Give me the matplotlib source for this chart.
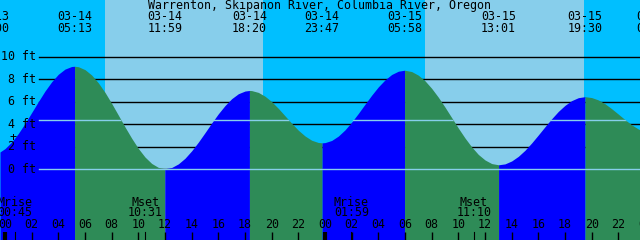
import numpy as np
import matplotlib
matplotlib.use('Agg')
import matplotlib.pyplot as plt

# tide heights (ft), hours from 03-14 00:00
tide_hours = [-0.375, 0, 0.5, 1, 1.5, 2, 2.5, 3, 3.5, 4, 4.5, 5, 5.217,
              5.5, 6, 6.5, 7, 7.5, 8, 8.5, 9, 9.5, 10, 10.5, 11, 11.5, 11.983,
              12.5, 13, 13.5, 14, 14.5, 15, 15.5, 16, 16.5, 17, 17.5, 18, 18.333,
              18.5, 19, 19.5, 20, 20.5, 21, 21.5, 22, 22.5, 23, 23.5, 23.783,
              24, 24.5, 25, 25.5, 26, 26.5, 27, 27.5, 28, 28.5, 29, 29.5, 29.967,
              30.5, 31, 31.5, 32, 32.5, 33, 33.5, 34, 34.5, 35, 35.5, 36, 36.5, 37.017,
              37.5, 38, 38.5, 39, 39.5, 40, 40.5, 41, 41.5, 42, 42.5, 43, 43.5,
              44, 44.5, 45, 45.5, 46, 46.5, 47, 47.5, 47.625]
tide_ft = [1.54, 1.84, 2.42, 3.18, 4.07, 5.04, 6.01, 6.95, 7.77, 8.44, 8.90, 9.13, 9.15,
           9.11, 8.85, 8.37, 7.68, 6.83, 5.85, 4.81, 3.76, 2.76, 1.85, 1.09, 0.52, 0.17, 0.05,
           0.16, 0.48, 0.98, 1.64, 2.41, 3.25, 4.11, 4.93, 5.66, 6.27, 6.71, 6.95, 7.0,
           6.99, 6.83, 6.49, 6.01, 5.41, 4.75, 4.09, 3.47, 2.96, 2.58, 2.38, 2.35,
           2.37, 2.56, 2.95, 3.50, 4.19, 4.96, 5.78, 6.58, 7.32, 7.94, 8.42, 8.71, 8.8,
           8.68, 8.36, 7.86, 7.19, 6.40, 5.52, 4.59, 3.66, 2.78, 1.99, 1.32, 0.83, 0.51, 0.4,
           0.48, 0.74, 1.15, 1.69, 2.34, 3.05, 3.78, 4.49, 5.14, 5.68, 6.10, 6.36, 6.45,
           6.37, 6.16, 5.82, 5.38, 4.90, 4.41, 3.95, 3.58, 3.50]

# high / low tide events
event_hours = [-1.0, 5.217, 11.983, 18.333, 23.783, 29.967, 37.017, 43.5, 48.667]
event_dates = ['03-13', '03-14', '03-14', '03-14', '03-14', '03-15', '03-15', '03-15', '03-16']
event_times = ['23:00', '05:13', '11:59', '18:20', '23:47', '05:58', '13:01', '19:30', '00:40']

# daylight
sunrise = [7.5, 31.5]
sunset = [19.35, 43.43]

# moon
moon_hours = [0.75, 10.517, 25.983, 35.167]
moon_names = ['Mrise', 'Mset', 'Mrise', 'Mset']
moon_times = ['00:45', '10:31', '01:59', '11:10']

depth_ft = [0, 2, 4, 6, 8, 10]
mark_ft = [0, 4.38]   # datum and mean level
title = 'Warrenton, Skipanon River, Columbia River, Oregon'

night_c = '#00BFFF'
day_c = '#87CEEB'
rise_c = '#0000FF'
fall_c = '#2E8B57'
font = dict(family='DejaVu Sans Mono', fontsize=8.4, color='black')

W, H = 640, 240
fig = plt.figure(figsize=(6.4, 2.4), dpi=100)
ax = fig.add_axes([0, 0, 1, 1])
x0 = -5 / (40 / 3.0)
ax.set_xlim(x0, x0 + W / (40 / 3.0))
ftpx = 11.26
ax.set_ylim((169.3 - H) / ftpx, 169.3 / ftpx)
ax.axis('off')
fig.patch.set_facecolor(night_c)
for a, b in zip(sunrise, sunset):
    ax.axvspan(a, b, color=day_c, lw=0, zorder=1)

# depth lines behind the water
for d in depth_ft:
    ax.axhline(d, xmin=39 / W, xmax=1, color='black', lw=1, zorder=2)

# water fill, blue rising / green falling
t = np.array(tide_hours)
h = np.array(tide_ft)
bottom = -10
ext = [0] + [i for i in range(1, len(t) - 1) if t[i] in event_hours] + [len(t) - 1]
for i, j in zip(ext[:-1], ext[1:]):
    c = rise_c if h[j] > h[i] else fall_c
    ax.fill_between(t[i:j + 1], h[i:j + 1], bottom, color=c, lw=0, zorder=3,
                    antialiased=False)
clip = ax.fill_between(t, h, bottom, color='none', lw=0)
for d in mark_ft:
    ln = ax.axhline(d, xmin=39 / W, xmax=1, color=day_c, lw=1, zorder=4)
    ln.set_clip_path(clip.get_paths()[0], ax.transData)

tx = ax.get_xaxis_transform()
ty = ax.get_yaxis_transform()


def ypx(p):
    return 1 - p / H


ax.text(319.5 / W, ypx(6), title, transform=ax.transAxes, ha='center', va='center', **font)
for eh, ed, et in zip(event_hours, event_dates, event_times):
    ax.text(eh, ypx(17), ed, transform=tx, ha='center', va='center', **font)
    ax.text(eh, ypx(29), et, transform=tx, ha='center', va='center', **font)

for d in depth_ft:
    ax.text(36 / W, d, '%d ft' % d, transform=ty, ha='right', va='center', zorder=5, **font)
ax.text(13 / W, ypx(138), '+', transform=ax.transAxes, ha='center', va='center', zorder=5, **font)

for mh, mn, mt in zip(moon_hours, moon_names, moon_times):
    ax.text(mh, ypx(202), mn, transform=tx, ha='center', va='center', zorder=5, **font)
    ax.text(mh, ypx(213), mt, transform=tx, ha='center', va='center', zorder=5, **font)
    ax.plot([mh, mh], [ypx(232), 0], transform=tx, color='black', lw=0.8, zorder=5)

for hr in range(0, 50, 2):
    ax.text(hr, ypx(225), '%02d' % (hr % 24), transform=tx, ha='center', va='center', zorder=5, **font)
    lw = 3 if hr % 24 == 0 else 1
    ax.plot([hr, hr], [ypx(232), 0], transform=tx, color='black', lw=lw, zorder=5,
            solid_capstyle='butt')

fig.savefig('out.png', dpi=100, facecolor=fig.get_facecolor())
